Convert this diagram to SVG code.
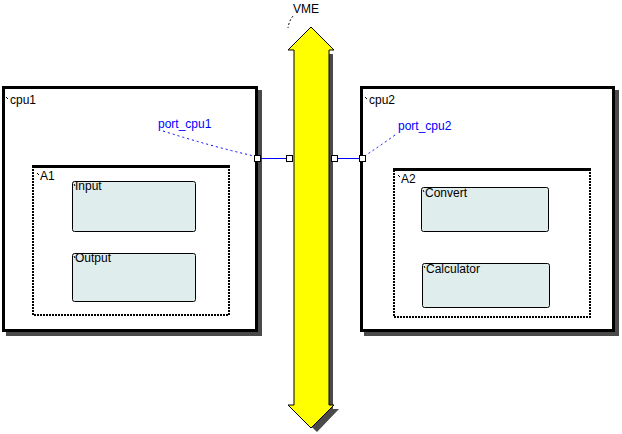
<svg xmlns="http://www.w3.org/2000/svg" width="622" height="434" viewBox="0 0 622 434">
<style>
text{font-family:"Liberation Sans",Arial,sans-serif;font-size:12px;fill:#000}
.port-label{fill:#0000ff}
.shadow{fill:#4a4a4a}
.outer{fill:#fff;stroke:#000;stroke-width:3}
.area{fill:#fff;stroke:#000;stroke-width:2;stroke-dasharray:2 1}
.areatop{stroke:#000;stroke-width:3}
.comp{fill:#e0eded;stroke:#000;stroke-width:1}
.tick{stroke:#000;stroke-width:1}
.port{fill:#fff;stroke:#000;stroke-width:1}
.link{stroke:#0000ff;stroke-width:1;fill:none}
.lead{stroke:#0000ff;stroke-width:1;fill:none;stroke-dasharray:2 3}
</style>
<rect width="622" height="434" fill="#fff"/>

<g id="cpu1">
  <rect class="shadow" x="6" y="90" width="256" height="246"/>
  <rect class="outer" x="3.5" y="87.5" width="253" height="243"/>
  <line class="tick" x1="6" y1="97" x2="8" y2="99"/>
  <text x="10" y="104">cpu1</text>
</g>
<g id="A1">
  <rect class="area" x="33" y="167" width="196" height="148"/>
  <line class="areatop" x1="32" y1="166.5" x2="230" y2="166.5"/>
  <line class="tick" x1="37" y1="173" x2="39" y2="175"/>
  <text x="40" y="180">A1</text>
</g>
<g id="Input">
  <rect class="comp" x="72.5" y="181.5" width="123" height="50" rx="2"/>
  <line class="tick" x1="74" y1="184" x2="75" y2="186"/>
  <text x="75" y="190">Input</text>
</g>
<g id="Output">
  <rect class="comp" x="72.5" y="253.5" width="123" height="48" rx="2"/>
  <line class="tick" x1="74" y1="256" x2="75" y2="258"/>
  <text x="75" y="262">Output</text>
</g>

<g id="cpu2">
  <rect class="shadow" x="364" y="90" width="255" height="246"/>
  <rect class="outer" x="361.5" y="87.5" width="252" height="243"/>
  <line class="tick" x1="365" y1="97" x2="367" y2="99"/>
  <text x="369" y="104">cpu2</text>
</g>
<g id="A2">
  <rect class="area" x="394" y="170" width="196" height="147"/>
  <line class="areatop" x1="393" y1="169.5" x2="591" y2="169.5"/>
  <line class="tick" x1="398" y1="175" x2="400" y2="177"/>
  <text x="401" y="183">A2</text>
</g>
<g id="Convert">
  <rect class="comp" x="421.5" y="187.5" width="127" height="44" rx="2"/>
  <line class="tick" x1="423" y1="190" x2="424" y2="192"/>
  <text x="425" y="197">Convert</text>
</g>
<g id="Calculator">
  <rect class="comp" x="422.5" y="263.5" width="127" height="44" rx="2"/>
  <line class="tick" x1="424" y1="266" x2="425" y2="268"/>
  <text x="426" y="273">Calculator</text>
</g>

<g id="VME">
  <polygon class="shadow" points="298,54 333,54 333,409 339,409 317,432 293,409 298,409"/>
  <polygon points="311,27 334,50 329,50 329,405 334,405 311,428 288,405 294,405 294,50 288,50" fill="#ffff00" stroke="#000" stroke-width="1"/>
  <text x="293" y="13">VME</text>
  <path d="M293,16 Q289,21 288,28" fill="none" stroke="#000" stroke-width="1" stroke-dasharray="2 2"/>
</g>

<g id="connectors">
  <line class="link" x1="260" y1="158.5" x2="287" y2="158.5"/>
  <line class="link" x1="337" y1="158.5" x2="359" y2="158.5"/>
  <path class="lead" d="M163,131 Q210,146 254,156"/>
  <path class="lead" d="M395,135 Q380,146 366,155"/>
  <rect class="port" x="254.5" y="155.5" width="6" height="6"/>
  <rect class="port" x="286.5" y="155.5" width="6" height="6"/>
  <rect class="port" x="331.5" y="155.5" width="6" height="6"/>
  <rect class="port" x="359.5" y="155.5" width="6" height="6"/>
  <text class="port-label" x="158" y="128">port_cpu1</text>
  <text class="port-label" x="398" y="130">port_cpu2</text>
</g>
</svg>
